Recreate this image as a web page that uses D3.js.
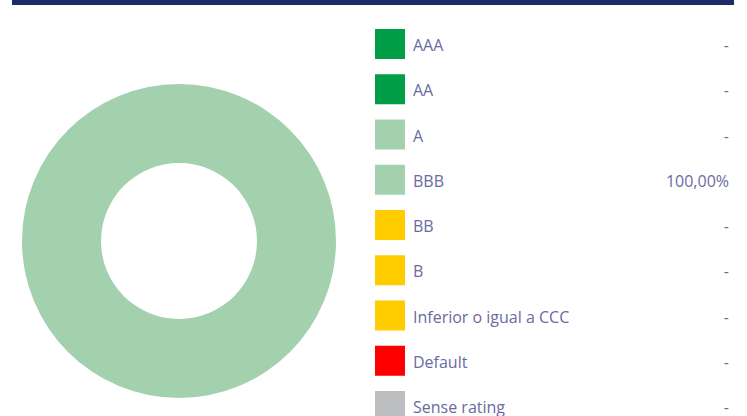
<!DOCTYPE html>
<html>
<head>
<meta charset="utf-8">
<script src="https://cdn.jsdelivr.net/npm/d3@7"></script>
<style>
  body{margin:0;background:#fff;}
  svg{display:block;}
  .label{font-family:"Open Sans",Lato,sans-serif;font-size:16px;fill:#6a6a9f;}
</style>
</head>
<body>
<svg id="rating"></svg>
<script>
// rating categories and their share of the portfolio (%)
var ratings=["AAA","AA","A","BBB","BB","B","Inferior o igual a CCC","Default","Sense rating"]
var shares=[0,0,0,100,0,0,0,0,0]
var shareLabels=["-","-","-","100,00%","-","-","-","-","-"]
var colors=["#009e47","#009e47","#a3d1ae","#a3d1ae","#ffcc00","#ffcc00","#ffcc00","#ff0000","#bcbec0"]

var screen={width:747,height:416}

var svg=d3.select("#rating")
    .attr("width",screen.width)
    .attr("height",screen.height)

// top rule
svg.append("rect")
    .attr("x",12)
    .attr("y",0)
    .attr("width",722)
    .attr("height",5)
    .attr("fill","#1c2b6b")

var data=ratings.map(function(r,i){
    return {name:r,value:shares[i],label:shareLabels[i],color:colors[i]}
})

//donut
var pie=d3.pie()
    .sort(null)
    .value(function(d){return d.value})
var arc=d3.arc()
    .innerRadius(78)
    .outerRadius(157)

svg.append("g")
    .attr("transform","translate(179,241)")
    .selectAll("path")
    .data(pie(data))
    .enter()
    .append("path")
    .attr("d",arc)
    .attr("fill",function(d){return d.data.color})

//legend
var yScale=d3.scaleBand()
    .domain(ratings)
    .range([29,29+45.25*ratings.length])

var rows=svg.append("g")
    .selectAll("g")
    .data(data)
    .enter()
    .append("g")
    .attr("transform",function(d){return "translate(0,"+yScale(d.name)+")"})

rows.append("rect")
    .attr("x",375)
    .attr("width",30)
    .attr("height",30)
    .attr("fill",function(d){return d.color})

rows.append("text")
    .classed("label",true)
    .attr("x",413)
    .attr("y",16)
    .attr("dominant-baseline","central")
    .text(function(d){return d.name})

rows.append("text")
    .classed("label",true)
    .attr("x",729)
    .attr("y",16)
    .attr("text-anchor","end")
    .attr("dominant-baseline","central")
    .text(function(d){return d.label})
</script>
</body>
</html>
